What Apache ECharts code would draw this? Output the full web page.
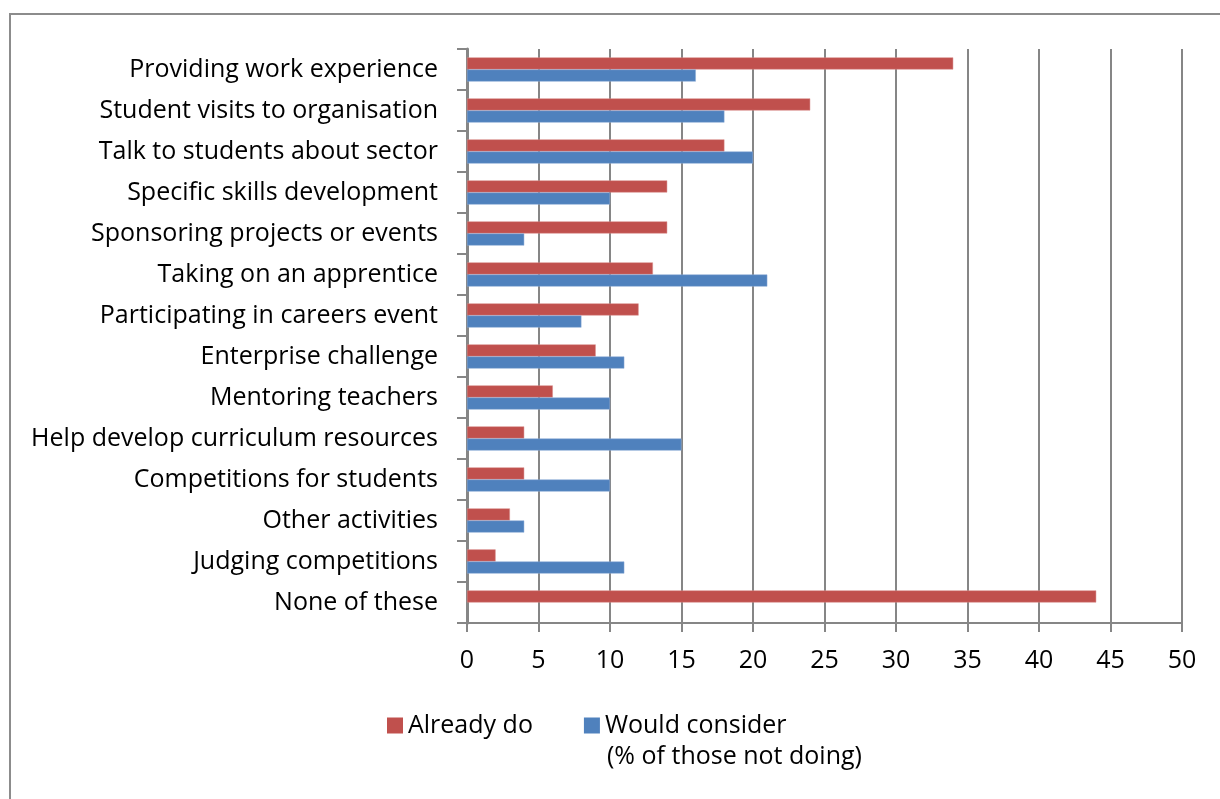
<!DOCTYPE html>
<html>
<head>
<meta charset="utf-8">
<script src="https://cdn.jsdelivr.net/npm/echarts@6/dist/echarts.min.js"></script>
<style>
  html, body { margin: 0; padding: 0; background: #fff; }
  #chart { width: 1220px; height: 799px; }
</style>
</head>
<body>
<div id="chart"></div>
<script>
// Employer activities with schools, top to bottom
const categories = [
  'Providing work experience',
  'Student visits to organisation',
  'Talk to students about sector',
  'Specific skills development',
  'Sponsoring projects or events',
  'Taking on an apprentice',
  'Participating in careers event',
  'Enterprise challenge',
  'Mentoring teachers',
  'Help develop curriculum resources',
  'Competitions for students',
  'Other activities',
  'Judging competitions',
  'None of these'
];
const alreadyDo = [34, 24, 18, 14, 14, 13, 12, 9, 6, 4, 4, 3, 2, 44];
const wouldConsider = [16, 18, 20, 10, 4, 21, 8, 11, 10, 15, 10, 4, 11, null];
const xTicks = { min: 0, max: 50, step: 5 };

const FONT = '"Open Sans", "Noto Sans", sans-serif';
const FONT_SIZE = 25;
const AXIS_GREY = '#868686';

const chart = echarts.init(document.getElementById('chart'), null, { renderer: 'canvas' });
chart.setOption({
  backgroundColor: '#ffffff',
  animation: false,
  textStyle: { fontFamily: FONT, color: '#000' },
  grid: { left: 467, right: 38, top: 49, bottom: 176, containLabel: false },
  xAxis: {
    type: 'value',
    min: xTicks.min,
    max: xTicks.max,
    interval: xTicks.step,
    axisLine: { show: true, lineStyle: { color: AXIS_GREY, width: 2 } },
    axisTick: { show: true, length: 9, lineStyle: { color: AXIS_GREY, width: 2 } },
    splitLine: { show: true, lineStyle: { color: AXIS_GREY, width: 2 } },
    axisLabel: { fontSize: FONT_SIZE, color: '#000', margin: 25, fontFamily: FONT }
  },
  yAxis: {
    type: 'category',
    data: categories,
    inverse: true,
    axisLine: { show: true, lineStyle: { color: AXIS_GREY, width: 3 } },
    axisTick: { show: true, length: 10, lineStyle: { color: AXIS_GREY, width: 2 } },
    axisLabel: { fontSize: FONT_SIZE, color: '#000', margin: 29, fontFamily: FONT, padding: [4, 0, 0, 0] }
  },
  legend: {
    left: 387,
    top: 713,
    padding: 0,
    itemWidth: 16,
    itemHeight: 16,
    itemGap: 51,
    itemTextGap: 8,
    icon: 'rect',
    itemStyle: { borderWidth: 0 },
    textStyle: { fontSize: FONT_SIZE, color: '#000', fontFamily: FONT },
    formatter: (name) => name.split('\n')[0],
    data: ['Already do', 'Would consider\n(% of those not doing)']
  },
  graphic: [
    {
      type: 'rect',
      silent: true,
      shape: { x: 10, y: 14, width: 1240, height: 820 },
      style: { fill: 'none', stroke: '#8c8c8c', lineWidth: 2 }
    },
    {
      type: 'text',
      left: 607,
      top: 744,
      style: { text: '(% of those not doing)', font: FONT_SIZE + 'px ' + FONT, fill: '#000' }
    }
  ],
  series: [
    {
      name: 'Already do',
      type: 'bar',
      data: alreadyDo,
      barGap: '0%',
      barCategoryGap: '41%',
      itemStyle: { color: '#C0504D', borderColor: '#d88a88', borderWidth: 0.5 }
    },
    {
      name: 'Would consider\n(% of those not doing)',
      type: 'bar',
      data: wouldConsider,
      itemStyle: { color: '#4F81BD', borderColor: '#8aabd6', borderWidth: 0.5 }
    }
  ]
});
</script>
</body>
</html>
